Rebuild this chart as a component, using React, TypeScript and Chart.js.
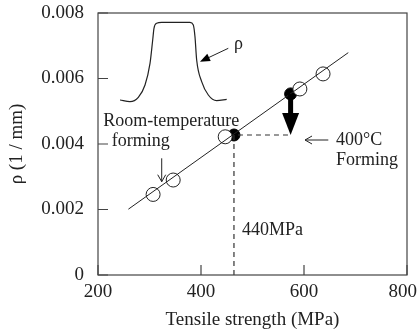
import React, { useEffect, useRef } from "react";
import { Chart, registerables } from "chart.js";

Chart.register(...registerables);

// Axis ticks
const xTickValues = [200, 400, 600, 800];
const xTickLabels = ["200", "400", "600", "800"];
const yTickValues = [0, 0.002, 0.004, 0.006, 0.008];
const yTickLabels = ["0", "0.002", "0.004", "0.006", "0.008"];

// Measured data (open circles)
const openX = [307, 346, 447, 592, 637];
const openY = [0.00246, 0.0029, 0.00422, 0.00568, 0.00614];

// Filled points
const filledX = [464, 574];
const filledY = [0.004275, 0.00553];

// Fitted line
const fitX = [259, 686];
const fitY = [0.00201, 0.00679];

// Dashed guide (440MPa)
const dashX = [464, 464, 575];
const dashY = [0, 0.004275, 0.004275];

// Inset curve (ρ profile sketch)
const insetX = [242.7, 262.1, 278.3, 291.3, 301.0, 306.2, 308.7, 313.9, 323.6, 378.6, 385.1, 388.3, 391.6, 401.3, 414.2, 430.4, 449.9];
const insetY = [0.005344, 0.005293, 0.005425, 0.005802, 0.006463, 0.007176, 0.007532, 0.007684, 0.007715, 0.007715, 0.007634, 0.007277, 0.006565, 0.005903, 0.005496, 0.005323, 0.005364];

// Thick arrow (from filled point down to 440MPa level)
const bigArrowX = [574, 574];
const bigArrowY = [0.00553, 0.004275];

const FONT = "'Liberation Serif', 'Times New Roman', serif";
const INK = "#222";
const AXIS = "#444";

const pts = (xs: number[], ys: number[]) => xs.map((x, i) => ({ x, y: ys[i] }));

const overlay = {
  id: "overlay",
  afterDatasetsDraw(chart: any) {
    const ctx = chart.ctx as CanvasRenderingContext2D;
    const xs = chart.scales.x;
    const ys = chart.scales.y;
    const X = (v: number) => xs.getPixelForValue(v);
    const Y = (v: number) => ys.getPixelForValue(v);
    const ca = chart.chartArea;
    ctx.save();

    // box
    ctx.strokeStyle = AXIS;
    ctx.lineWidth = 1.2;
    ctx.strokeRect(ca.left, ca.top, ca.right - ca.left, ca.bottom - ca.top);

    // inward ticks
    ctx.beginPath();
    xTickValues.forEach((v) => {
      const px = X(v);
      ctx.moveTo(px, ca.bottom);
      ctx.lineTo(px, ca.bottom - 10);
    });
    yTickValues.forEach((v) => {
      const py = Y(v);
      ctx.moveTo(ca.left, py);
      ctx.lineTo(ca.left + 10, py);
    });
    ctx.stroke();

    // x tick labels (kept inside the canvas)
    ctx.fillStyle = INK;
    ctx.font = `19px ${FONT}`;
    ctx.textAlign = "center";
    ctx.textBaseline = "middle";
    xTickValues.forEach((v, i) => {
      const w = ctx.measureText(xTickLabels[i]).width;
      const px = Math.min(X(v), chart.width - w / 2 - 1);
      ctx.fillText(xTickLabels[i], px, ca.bottom + 17);
    });

    // thick arrow
    ctx.fillStyle = "#000";
    const ax = X(bigArrowX[0]);
    const ay0 = Y(bigArrowY[0]);
    const ay1 = Y(bigArrowY[1]);
    const headLen = 22;
    ctx.fillRect(ax - 2.5, ay0, 5, ay1 - headLen - ay0 + 1);
    ctx.beginPath();
    ctx.moveTo(ax - 8.5, ay1 - headLen);
    ctx.lineTo(ax + 8.5, ay1 - headLen);
    ctx.lineTo(ax, ay1);
    ctx.closePath();
    ctx.fill();

    // ρ arrow (filled head)
    {
      const tx = X(453), ty = Y(0.006922);
      const hx = X(398), hy = Y(0.006513);
      const ang = Math.atan2(hy - ty, hx - tx);
      ctx.strokeStyle = INK;
      ctx.lineWidth = 1;
      ctx.beginPath();
      ctx.moveTo(tx, ty);
      ctx.lineTo(hx - 8 * Math.cos(ang), hy - 8 * Math.sin(ang));
      ctx.stroke();
      ctx.beginPath();
      ctx.moveTo(hx, hy);
      ctx.lineTo(hx - 10 * Math.cos(ang) + 4 * Math.sin(ang), hy - 10 * Math.sin(ang) - 4 * Math.cos(ang));
      ctx.lineTo(hx - 10 * Math.cos(ang) - 4 * Math.sin(ang), hy - 10 * Math.sin(ang) + 4 * Math.cos(ang));
      ctx.closePath();
      ctx.fillStyle = "#000";
      ctx.fill();
    }

    // open-head arrows
    const openArrow = (x0: number, y0: number, x1: number, y1: number) => {
      const ang = Math.atan2(y1 - y0, x1 - x0);
      ctx.strokeStyle = INK;
      ctx.lineWidth = 1;
      ctx.beginPath();
      ctx.moveTo(x0, y0);
      ctx.lineTo(x1, y1);
      const L = 7, W = 4;
      ctx.moveTo(x1 - L * Math.cos(ang) + W * Math.sin(ang), y1 - L * Math.sin(ang) - W * Math.cos(ang));
      ctx.lineTo(x1, y1);
      ctx.lineTo(x1 - L * Math.cos(ang) - W * Math.sin(ang), y1 - L * Math.sin(ang) + W * Math.cos(ang));
      ctx.stroke();
    };
    openArrow(X(323.7), Y(0.003563), X(323.7), Y(0.002849));
    openArrow(X(647.2), Y(0.004122), X(602), Y(0.004122));

    // texts
    ctx.fillStyle = INK;
    ctx.font = `18px ${FONT}`;
    ctx.textAlign = "left";
    ctx.textBaseline = "middle";
    ctx.fillText("ρ", X(464), Y(0.007053));
    ctx.fillText("Room-temperature", X(210.3), Y(0.004681));
    ctx.fillText("forming", X(226.6), Y(0.00407));
    ctx.fillText("400°C", X(662), Y(0.004122));
    ctx.fillText("Forming", X(662), Y(0.003511));
    ctx.fillText("440MPa", X(479.6), Y(0.001374));

    ctx.restore();
  },
};

export default function App() {
  const ref = useRef<HTMLCanvasElement | null>(null);
  useEffect(() => {
    document.body.style.margin = "0";
    const canvas = ref.current!;
    const chart = new Chart(canvas, {
      type: "scatter",
      data: {
        datasets: [
          {
            data: pts(fitX, fitY),
            showLine: true,
            pointRadius: 0,
            borderColor: INK,
            borderWidth: 1,
          },
          {
            data: pts(insetX, insetY),
            showLine: true,
            pointRadius: 0,
            borderColor: INK,
            borderWidth: 1.2,
            tension: 0.4,
            cubicInterpolationMode: "monotone",
          },
          {
            data: pts(dashX, dashY),
            showLine: true,
            pointRadius: 0,
            borderColor: "#333",
            borderWidth: 1.2,
            borderDash: [5, 4],
          },
          {
            data: pts(openX, openY),
            showLine: false,
            pointRadius: 7,
            backgroundColor: "#fff",
            borderColor: INK,
            borderWidth: 1,
          },
          {
            data: pts(filledX, filledY),
            showLine: false,
            pointRadius: 6,
            backgroundColor: "#000",
            borderColor: "#000",
            borderWidth: 1,
          },
        ] as any,
      },
      options: {
        responsive: false,
        animation: false,
        events: [],
        layout: { padding: { top: 13, right: 11, left: 0, bottom: 0 } },
        plugins: { legend: { display: false }, tooltip: { enabled: false } },
        scales: {
          x: {
            type: "linear",
            min: 200,
            max: 800,
            afterBuildTicks: (s: any) => {
              s.ticks = xTickValues.map((v) => ({ value: v }));
            },
            ticks: { display: false },
            grid: { display: false, drawTicks: false },
            border: { display: false },
            title: {
              display: true,
              text: "Tensile strength (MPa)",
              font: { family: FONT, size: 19 },
              color: INK,
              padding: { top: 0, bottom: 2 },
            },
            afterFit: (s: any) => {
              s.height = 58;
              s.paddingLeft = 0;
              s.paddingRight = 0;
            },
          },
          y: {
            type: "linear",
            min: 0,
            max: 0.008,
            afterBuildTicks: (s: any) => {
              s.ticks = yTickValues.map((v) => ({ value: v }));
            },
            ticks: {
              callback: (v: any) => {
                const i = yTickValues.findIndex((t) => Math.abs(t - Number(v)) < 1e-9);
                return i >= 0 ? yTickLabels[i] : "";
              },
              font: { family: FONT, size: 19 },
              color: INK,
              padding: 14,
              autoSkip: false,
            },
            grid: { display: false, drawTicks: false },
            border: { display: false },
            title: {
              display: true,
              text: "ρ (1 / mm)",
              font: { family: FONT, size: 19 },
              color: INK,
              padding: { top: 6, bottom: 0 },
            },
            afterFit: (s: any) => {
              s.width = 98;
              s.paddingTop = 0;
              s.paddingBottom = 0;
            },
          },
        },
      },
      plugins: [overlay],
    });
    return () => chart.destroy();
  }, []);
  return <canvas ref={ref} width={418} height={333} style={{ display: "block" }} />;
}
